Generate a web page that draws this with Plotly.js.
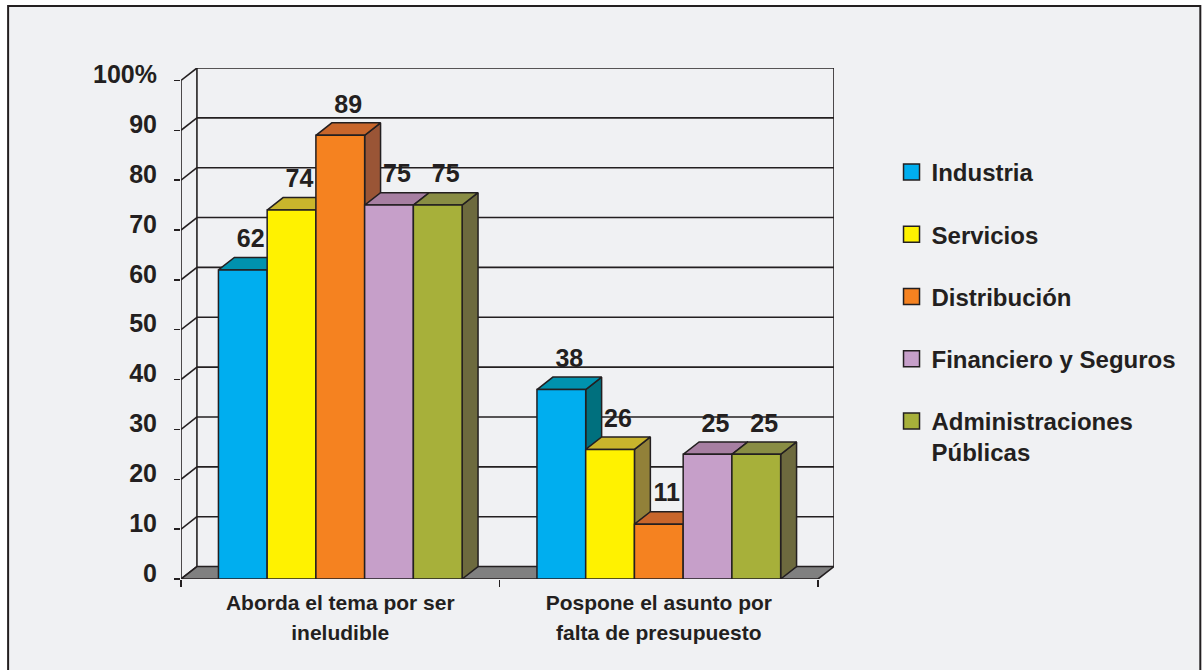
<!DOCTYPE html>
<html>
<head>
<meta charset="utf-8">
<script src="https://cdn.plot.ly/plotly-3.0.1.min.js"></script>
<style>
  html, body { margin: 0; padding: 0; background: #ffffff; }
  #chart { width: 1203px; height: 670px; }
</style>
</head>
<body>
<div id="chart"></div>
<script>
// ---- data ----
const categoryLines = [
  ["Aborda el tema por ser", "ineludible"],
  ["Pospone el asunto por", "falta de presupuesto"]
];
const seriesNames = ["Industria", "Servicios", "Distribución", "Financiero y Seguros", "Administraciones<br>Públicas"];
const industria = [62, 38];
const servicios = [74, 26];
const distribucion = [89, 11];
const financiero = [75, 25];
const administraciones = [75, 25];
const yTickVals = [0, 10, 20, 30, 40, 50, 60, 70, 80, 90, 100];
const yTickText = ["0", "10", "20", "30", "40", "50", "60", "70", "80", "90", "100%"];

// ---- styling ----
const seriesValues = [industria, servicios, distribucion, financiero, administraciones];
const frontColors = ["#00AEEF", "#FFF200", "#F58220", "#C69FC9", "#A7B03A"];
const topColors   = ["#0092AE", "#C9B52C", "#C8662B", "#A77FA2", "#898D44"];
const sideColors  = ["#00707E", "#928139", "#9A5536", "#8A6A86", "#6D6A3E"];
const INK = "#231f20";
const FONT = "Liberation Sans, Arial, Helvetica, sans-serif";
const BW = 0.153;   // bar width in category units
const DXu = 0.05;   // depth offset x (category units)
const DYu = 2.5;    // depth offset y (value units)
const catPos = categoryLines.map((_, i) => i);

const traces = [];

// back wall + left wall lines
(function () {
  const xs = [], ys = [];
  const xl = -0.5, xr = catPos.length - 0.5;
  yTickVals.forEach(v => {
    if (v > 0) { xs.push(xl + DXu, xr + DXu, null); ys.push(v + DYu, v + DYu, null); }
    xs.push(xl, xl + DXu, null); ys.push(v, v + DYu, null);
  });
  const vmax = yTickVals[yTickVals.length - 1];
  xs.push(xl + DXu, xl + DXu, null); ys.push(DYu, vmax + DYu, null);
  xs.push(xr + DXu, xr + DXu, null); ys.push(DYu, vmax + DYu, null);
  xs.push(xl, xl, null); ys.push(0, vmax, null);
  traces.push({ type: "scatter", mode: "lines", x: xs, y: ys, line: { color: INK, width: 1.6 },
    hoverinfo: "skip", showlegend: false, cliponaxis: false });
  // floor
  traces.push({ type: "scatter", mode: "lines", fill: "toself", fillcolor: "#808080",
    x: [xl, xl + DXu, xr + DXu, xr, xl], y: [0, DYu, DYu, 0, 0],
    line: { color: INK, width: 1.6 }, hoverinfo: "skip", showlegend: false, cliponaxis: false });
})();

// 3D bars
seriesValues.forEach((vals, s) => {
  const side = { x: [], y: [] }, top = { x: [], y: [] }, front = { x: [], y: [] };
  vals.forEach((v, c) => {
    const x0 = catPos[c] - 2.5 * BW + s * BW, x1 = x0 + BW;
    side.x.push(x1, x1, x1 + DXu, x1 + DXu, x1, null);
    side.y.push(0, v, v + DYu, DYu, 0, null);
    top.x.push(x0, x0 + DXu, x1 + DXu, x1, x0, null);
    top.y.push(v, v + DYu, v + DYu, v, v, null);
    front.x.push(x0, x0, x1, x1, x0, null);
    front.y.push(0, v, v, 0, 0, null);
  });
  [[side, sideColors[s]], [top, topColors[s]], [front, frontColors[s]]].forEach(([p, col]) => {
    traces.push({ type: "scatter", mode: "lines", fill: "toself", fillcolor: col,
      x: p.x, y: p.y, line: { color: INK, width: 1.5 }, hoverinfo: "skip",
      showlegend: false, cliponaxis: false });
  });
});

// data labels
seriesValues.forEach((vals, s) => {
  traces.push({ type: "scatter", mode: "text",
    x: vals.map((v, c) => catPos[c] - 2.5 * BW + s * BW + BW / 2 + DXu / 2),
    y: vals.map(v => v + DYu + 0.8),
    text: vals.map(v => String(v)), textposition: "top center",
    textfont: { family: FONT, size: 25, color: INK, weight: "bold" },
    hoverinfo: "skip", showlegend: false, cliponaxis: false });
});

// legend entries
seriesNames.forEach((name, s) => {
  traces.push({ type: "scatter", mode: "markers", x: [null], y: [null], name: name,
    legendgroup: "g" + s,
    marker: { symbol: "square", size: 16, color: frontColors[s], line: { color: INK, width: 1.5 } },
    hoverinfo: "skip" });
});

const W = 2.05 * 318.75, H = 511, L = 181, T = 68;
const px = v => (v - L) / W, py = v => (T + H - v) / H;

const layout = {
  width: 1203, height: 670, autosize: false,
  margin: { l: L, r: 1203 - L - Math.round(W), t: T, b: 670 - T - H, pad: 0 },
  paper_bgcolor: "#ffffff", plot_bgcolor: "rgba(0,0,0,0)",
  hovermode: false, dragmode: false,
  font: { family: FONT, color: INK, weight: "bold" },
  xaxis: {
    range: [-0.5, catPos.length - 0.5 + DXu], fixedrange: true,
    showgrid: false, zeroline: false, showline: false,
    tickmode: "array", tickvals: catPos,
    ticktext: categoryLines.map(ls => ls.map(t => '<span style="font-size:21px">' + t + '</span>').join("<br>")),
    ticks: "", tickfont: { family: FONT, size: 23, color: INK, weight: "bold" },
    ticklabelstandoff: 7,
    minor: { tickmode: "array", tickvals: [-0.5, 0.5, 1.5], ticks: "outside", ticklen: 7, tickwidth: 1.5, tickcolor: INK, showgrid: false }
  },
  yaxis: {
    range: [0, 100 + DYu], fixedrange: true,
    showgrid: false, zeroline: false, showline: false,
    tickmode: "array", tickvals: yTickVals, ticktext: yTickText,
    ticks: "outside", ticklen: 6, tickwidth: 1.5, tickcolor: INK,
    tickfont: { family: FONT, size: 25, color: INK, weight: "bold" },
    ticklabelshift: -6, ticklabelstandoff: 12
  },
  showlegend: true,
  legend: {
    x: px(892), y: py(150), xanchor: "left", yanchor: "top",
    bgcolor: "rgba(0,0,0,0)", borderwidth: 0,
    font: { family: FONT, size: 24, color: INK, weight: "bold" },
    tracegroupgap: 28, valign: "top", itemclick: false, itemdoubleclick: false
  },
  shapes: [{
    type: "rect", xref: "paper", yref: "paper", layer: "below",
    x0: px(8), x1: px(1201), y0: py(690), y1: py(6),
    line: { color: INK, width: 2 }, fillcolor: "#f0f1f3"
  }]
};

Plotly.newPlot("chart", traces, layout, { displayModeBar: false, staticPlot: true });
</script>
</body>
</html>
